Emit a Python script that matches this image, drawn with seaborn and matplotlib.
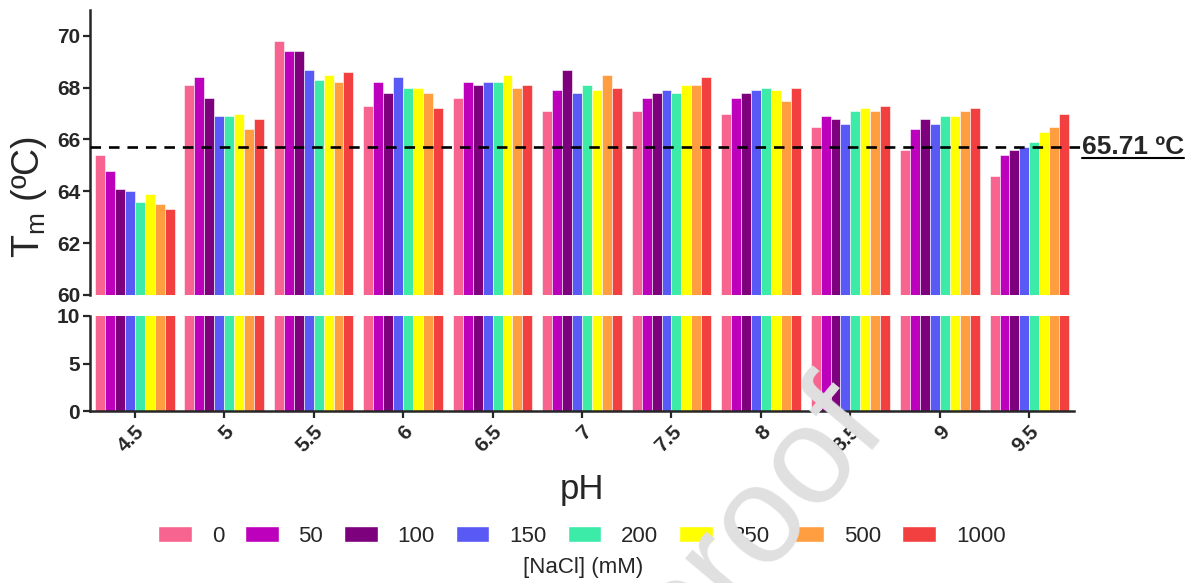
import pandas as pd
import matplotlib.pyplot as plt
import seaborn as sns
from matplotlib.patches import Patch
from matplotlib.lines import Line2D

# pH values on the x axis
ph_labels = ["4.5", "5", "5.5", "6", "6.5", "7", "7.5", "8", "8.5", "9", "9.5"]

# NaCl concentrations (mM), one series each
nacl_levels = ["0", "50", "100", "150", "200", "250", "500", "1000"]
nacl_colors = ["#F7648F", "#BC00BC", "#7D007D", "#5959F5",
               "#3DEBA8", "#FFFF00", "#FF9E40", "#F24040"]

# Tm values (ºC) per NaCl level, ordered like ph_labels
tm_nacl_0 = [65.4, 68.1, 69.8, 67.3, 67.6, 67.1, 67.1, 67.0, 66.5, 65.6, 64.6]
tm_nacl_50 = [64.8, 68.4, 69.4, 68.2, 68.2, 67.9, 67.6, 67.6, 66.9, 66.4, 65.4]
tm_nacl_100 = [64.1, 67.6, 69.4, 67.8, 68.1, 68.7, 67.8, 67.8, 66.8, 66.8, 65.6]
tm_nacl_150 = [64.0, 66.9, 68.7, 68.4, 68.2, 67.8, 67.9, 67.9, 66.6, 66.6, 65.7]
tm_nacl_200 = [63.6, 66.9, 68.3, 68.0, 68.2, 68.1, 67.8, 68.0, 67.1, 66.9, 65.9]
tm_nacl_250 = [63.9, 67.0, 68.5, 68.0, 68.5, 67.9, 68.1, 67.9, 67.2, 66.9, 66.3]
tm_nacl_500 = [63.5, 66.4, 68.2, 67.8, 68.0, 68.5, 68.1, 67.5, 67.1, 67.1, 66.5]
tm_nacl_1000 = [63.3, 66.8, 68.6, 67.2, 68.1, 68.0, 68.4, 68.0, 67.3, 67.2, 67.0]

tm_mean = 65.71

series = [tm_nacl_0, tm_nacl_50, tm_nacl_100, tm_nacl_150,
          tm_nacl_200, tm_nacl_250, tm_nacl_500, tm_nacl_1000]

# Long-form table for seaborn
rows = []
for level, values in zip(nacl_levels, series):
    for ph, tm in zip(ph_labels, values):
        rows.append({"pH": ph, "NaCl": level, "Tm": tm})
df = pd.DataFrame(rows)

sns.set_style("ticks")
plt.rcParams["font.family"] = ["Liberation Sans", "DejaVu Sans"]
plt.rcParams["mathtext.fontset"] = "custom"
plt.rcParams["mathtext.rm"] = "Liberation Sans"
plt.rcParams["mathtext.it"] = "Liberation Sans:italic"
plt.rcParams["mathtext.bf"] = "Liberation Sans:bold"

fig = plt.figure(figsize=(11.9, 5.83), dpi=100)
ax_top = fig.add_axes([0.0756, 0.494, 0.827, 0.489])
ax_bot = fig.add_axes([0.0756, 0.295, 0.827, 0.163])

palette = dict(zip(nacl_levels, nacl_colors))
for ax in (ax_top, ax_bot):
    sns.barplot(data=df, x="pH", y="Tm", hue="NaCl", order=ph_labels,
                hue_order=nacl_levels, palette=palette, width=0.89,
                saturation=1, edgecolor="white", linewidth=0.4,
                legend=False, ax=ax)
    ax.set_xlim(-0.5, 10.5)
    ax.set_xlabel("")
    ax.set_ylabel("")
    for side in ["top", "right"]:
        ax.spines[side].set_visible(False)
    ax.spines["left"].set_linewidth(1.8)
    ax.tick_params(axis="y", length=5, width=1.6, labelsize=15, pad=2)

# top panel: 60-71
ax_top.set_ylim(60, 71)
ax_top.set_yticks([60, 62, 64, 66, 68, 70])
ax_top.set_yticklabels(["60", "62", "64", "66", "68", "70"], fontweight="bold")
ax_top.spines["bottom"].set_visible(False)
ax_top.tick_params(axis="x", bottom=False, labelbottom=False)

# dashed mean line, running just past the axes
ax_top.axhline(tm_mean, xmin=0, xmax=1.006, color="black", lw=1.9,
               ls=(0, (4, 3)), clip_on=False, zorder=5)
mean_txt = ax_top.annotate(f"{tm_mean:.2f} ºC", xy=(1.008, tm_mean),
                           xycoords=("axes fraction", "data"),
                           ha="left", va="center", fontsize=19,
                           fontweight="bold", annotation_clip=False)

# bottom panel: 0-10
ax_bot.set_ylim(0, 10)
ax_bot.set_yticks([0, 5, 10])
ax_bot.set_yticklabels(["0", "5", "10"], fontweight="bold")
ax_bot.spines["bottom"].set_linewidth(1.8)
ax_bot.tick_params(axis="x", length=5, width=1.6, labelsize=15, pad=3)
ax_bot.set_xticks(range(len(ph_labels)))
ax_bot.set_xticklabels(ph_labels, rotation=45, ha="right",
                       rotation_mode="anchor", fontweight="bold")
ax_bot.set_xlabel("pH", fontsize=25, labelpad=12)

fig.text(0.024, 1 - 197 / 583, r"T$_{\mathrm{m}}$ (ºC)", rotation=90,
         fontsize=27, ha="center", va="center")

handles = [Patch(facecolor=c, label=l) for l, c in zip(nacl_levels, nacl_colors)]
fig.legend(handles=handles, loc="center", bbox_to_anchor=(0.489, 1 - 536 / 583),
           ncol=8, frameon=False, fontsize=16, handlelength=1.5,
           handleheight=0.7, handletextpad=0.9, columnspacing=0.95)
fig.text(0.49, 1 - 568 / 583, "[NaCl] (mM)", fontsize=16,
         ha="center", va="center")

# underline for the mean label
fig.canvas.draw()
bb = mean_txt.get_window_extent().transformed(fig.transFigure.inverted())
fig.add_artist(Line2D([bb.x0, bb.x1], [bb.y0 + 0.002, bb.y0 + 0.002],
                      color="black", lw=1.5, transform=fig.transFigure))

# faint watermark
fig.text(0.748, 1 - 430 / 583, "Journal Pre-proof", fontsize=100,
         color="#E0E0E0", rotation=50, rotation_mode="anchor",
         ha="right", va="baseline", zorder=10)

fig.savefig("out.png", dpi=100)
